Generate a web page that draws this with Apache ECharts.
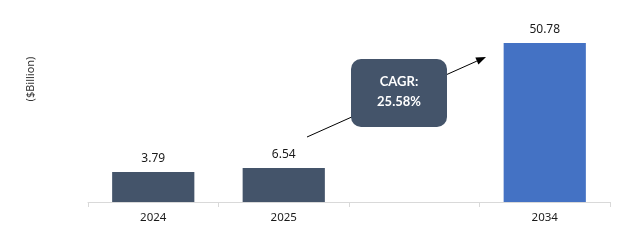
<!DOCTYPE html>
<html>
<head>
<meta charset="utf-8">
<script src="https://cdn.jsdelivr.net/npm/echarts@6/dist/echarts.min.js"></script>
<style>html,body{margin:0;padding:0;background:#fff}#c{width:624px;height:240px}</style>
</head>
<body>
<div id="c"></div>
<script>
var categories = ['2024', '2025', '', '2034'];
var values = [3.79, 6.54, null, 50.78];
var barColors = ['#44546A', '#44546A', '#44546A', '#4472C4'];
var yAxisTitle = '($Billion)';
var cagrLines = ['CAGR:', '25.58%'];
// the reference bars are not drawn to scale; axis breaks reproduce that look
var axisBreaks = [{ start: 4.0, end: 6.24, gap: 0 }, { start: 10, end: 38.45, gap: 0 }];

var chart = echarts.init(document.getElementById('c'), null, { renderer: 'canvas' });

var tip = [486, 57], tail = [307, 137];
var dx = tip[0] - tail[0], dy = tip[1] - tail[1];
var len = Math.sqrt(dx * dx + dy * dy), ux = dx / len, uy = dy / len;
var hl = 10, hw = 3.8;
var bx = tip[0] - ux * hl, by = tip[1] - uy * hl;

chart.setOption({
  animation: false,
  grid: { left: 88, right: 14, top: 43, bottom: 38 },
  xAxis: {
    type: 'category',
    data: categories,
    axisLine: { lineStyle: { color: '#d9d9d9', width: 1 } },
    axisTick: { show: true, length: 5, lineStyle: { color: '#d9d9d9' } },
    axisLabel: { color: '#1a1a1a', fontSize: 11.5, fontFamily: 'Noto Sans', margin: 10 }
  },
  yAxis: {
    type: 'value', min: 0, max: 50.78, show: false,
    splitLine: { show: false },
    breaks: axisBreaks,
    breakArea: { show: false }
  },
  series: [{
    type: 'bar',
    data: values.map(function (v, i) { return { value: v, itemStyle: { color: barColors[i] } }; }),
    barWidth: '63%',
    label: {
      show: true, position: 'top', distance: 7,
      color: '#1a1a1a', fontSize: 12, fontFamily: 'Noto Sans'
    }
  }],
  graphic: [
    {
      type: 'text', x: 31, y: 79, rotation: Math.PI / 2,
      style: { text: yAxisTitle, fill: '#333', font: '11px "Noto Sans"', align: 'center', verticalAlign: 'middle' }
    },
    {
      type: 'line', shape: { x1: tail[0], y1: tail[1], x2: bx, y2: by },
      style: { stroke: '#000', lineWidth: 1 }, z: 10
    },
    {
      type: 'polygon',
      shape: { points: [tip, [bx - uy * hw, by + ux * hw], [bx + uy * hw, by - ux * hw]] },
      style: { fill: '#000' }, z: 10
    },
    {
      type: 'rect', shape: { x: 351, y: 59, width: 96, height: 68, r: 10 },
      style: { fill: '#44546A' }, z: 11
    },
    {
      type: 'text', x: 399, y: 82, z: 12,
      style: { text: cagrLines[0], fill: '#fff', font: 'bold 13px Lato', align: 'center', verticalAlign: 'middle' }
    },
    {
      type: 'text', x: 399, y: 102, z: 12,
      style: { text: cagrLines[1], fill: '#fff', font: 'bold 13px Lato', align: 'center', verticalAlign: 'middle' }
    }
  ]
});
</script>
</body>
</html>
